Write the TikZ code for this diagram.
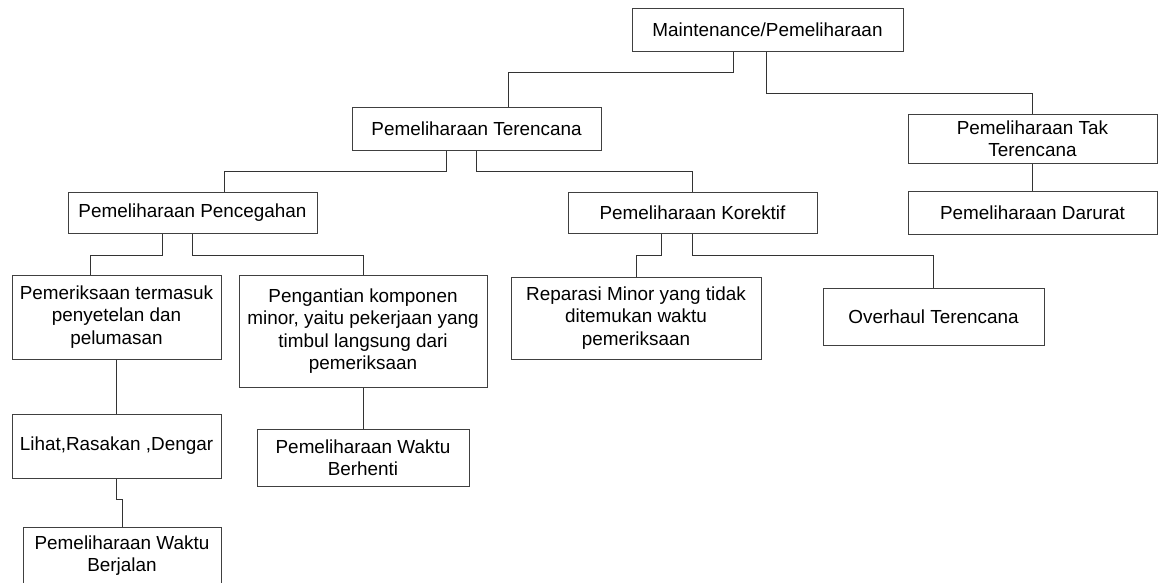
\documentclass[tikz,border=0pt]{standalone}
\usepackage{fontspec}
\setmainfont{Liberation Sans}
\begin{document}
\begin{tikzpicture}[x=1pt, y=-1pt,
  box/.style={draw=black!75, line width=1pt, inner sep=0pt, align=center,
    font=\fontsize{18.9}{22.5}\selectfont},
  link/.style={draw=black!80, line width=1pt}]
\useasboundingbox (0,0) rectangle (1158,582);
\clip (0,0) rectangle (1158,582);

% root
\node[box, minimum width=271pt, minimum height=43pt] (M) at (767.5,29.5) {Maintenance/Pemeliharaan};

% second level
\node[box, minimum width=249pt, minimum height=43pt] (T) at (476.5,128.5) {Pemeliharaan Terencana};
\node[box, minimum width=249pt, minimum height=49pt] (U) at (1032.5,138.5) {Pemeliharaan Tak\\Terencana};
\node[box, minimum width=249pt, minimum height=43pt] (D) at (1032.5,212.5) {Pemeliharaan Darurat};

% third level
\node[box, minimum width=249pt, minimum height=41pt] (P) at (192.5,212.5) {Pemeliharaan Pencegahan};
\node[box, minimum width=249pt, minimum height=41pt] (K) at (692.5,212.5) {Pemeliharaan Korektif};

% fourth level
\node[box, minimum width=209pt, minimum height=84pt] (E) at (116.5,317) {Pemeriksaan termasuk\\penyetelan dan\\pelumasan};
\node[box, minimum width=248pt, minimum height=112pt] (G) at (363,331) {Pengantian komponen\\minor, yaitu pekerjaan yang\\timbul langsung dari\\pemeriksaan};
\node[box, minimum width=250pt, minimum height=82pt] (R) at (636,318) {Reparasi Minor yang tidak\\ditemukan waktu\\pemeriksaan};
\node[box, minimum width=221pt, minimum height=57pt] (O) at (933.5,316.5) {Overhaul Terencana};

% lower levels
\node[box, minimum width=209pt, minimum height=64pt] (L) at (116.5,446) {Lihat,Rasakan ,Dengar};
\node[box, minimum width=212pt, minimum height=57pt] (B) at (363,457.5) {Pemeliharaan Waktu\\Berhenti};
\node[box, minimum width=198pt, minimum height=57pt] (J) at (122,555.5) {Pemeliharaan Waktu\\Berjalan};

% connectors
\draw[link] ([xshift=-34.5pt]M.south) -- ++(0,21) -| ([xshift=31.5pt]T.north);
\draw[link] ([xshift=-1.5pt]M.south) -- ++(0,42) -| (U.north);
\draw[link] (U) -- (D);
\draw[link] ([xshift=-30.5pt]T.south) -- ++(0,21) -| ([xshift=31.5pt]P.north);
\draw[link] (T.south) -- ++(0,21) -| (K.north);
\draw[link] ([xshift=-30.5pt]P.south) -- ++(0,22) -| ([xshift=-26.5pt]E.north);
\draw[link] (P.south) -- ++(0,22) -| (G.north);
\draw[link] ([xshift=-31.5pt]K.south) -- ++(0,22) -| (R.north);
\draw[link] (K.south) -- ++(0,22) -| (O.north);
\draw[link] (E) -- (L);
\draw[link] (G) -- (B);
\draw[link] (L.south) -- ++(0,21) -| (J.north);
\end{tikzpicture}
\end{document}
